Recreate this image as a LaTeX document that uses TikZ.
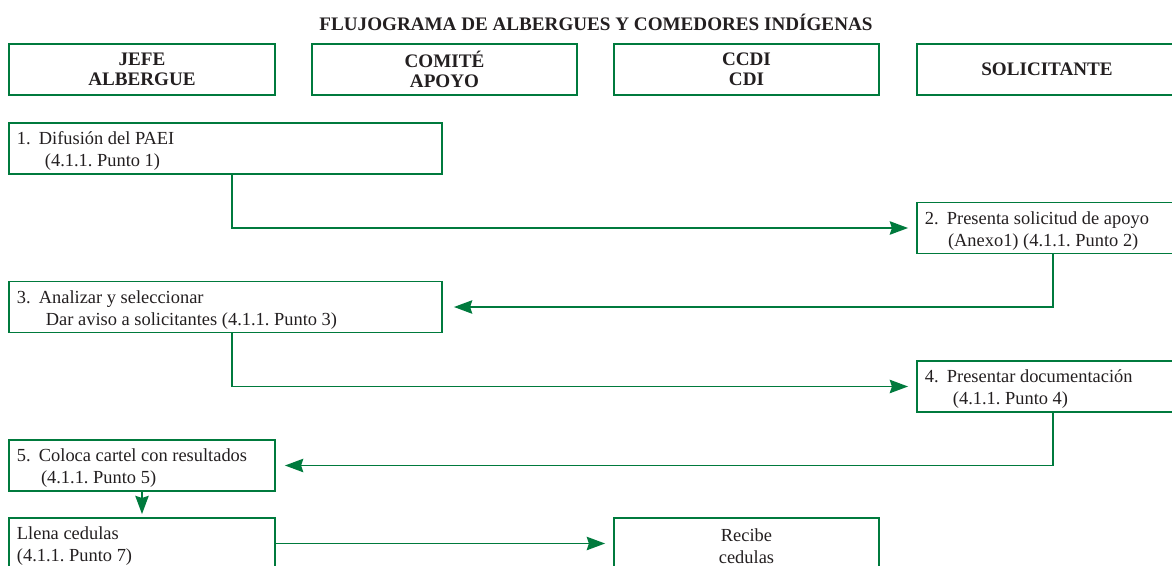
\documentclass[tikz,border=0pt]{standalone}
\usepackage{fontspec}
\setmainfont{Liberation Serif}
\usetikzlibrary{arrows.meta}
\definecolor{flowgreen}{RGB}{0,122,61}
\definecolor{ink}{RGB}{35,31,32}
\newcommand{\stepno}[1]{\makebox[15.6pt][l]{#1.}}
\newcommand{\topstrut}{\rule{0pt}{13pt}}
\frenchspacing

\begin{document}
\begin{tikzpicture}[x=0.025cm, y=-0.025cm,
	every node/.style={text=ink, font=\fontsize{13.1}{15.4}\selectfont},
	lane/.style={draw=flowgreen, line width=1.25pt, minimum height=1.275cm, inner sep=0pt, align=center, font=\bfseries\fontsize{13.6}{14.2}\selectfont},
	task/.style={draw=flowgreen, line width=1.25pt, minimum height=1.275cm, inner xsep=0.2cm, inner ysep=0pt, align=flush left},
	flow/.style={draw=flowgreen, line width=1.3pt, -{Stealth[length=13pt, width=9.5pt, inset=1.5pt]}}]
	% Page frame:
	\useasboundingbox (0,0) rectangle (1172,566);
	\clip (0,0) rectangle (1172,566);
	% Title and lanes:
	\node[anchor=base, font=\bfseries\fontsize{13.6}{14.2}\selectfont] (title) at (596,30) {FLUJOGRAMA DE ALBERGUES Y COMEDORES INDÍGENAS};
	\node[lane, minimum width=6.65cm] (jefe) at (142,69.5) {JEFE\\ALBERGUE};
	\node[lane, minimum width=6.625cm] (comite) at (444.5,69.5) {COMITÉ\\APOYO};
	\node[lane, minimum width=6.625cm] (ccdi) at (746.5,69.5) {CCDI\\CDI};
	\node[lane, minimum width=6.5cm] (solic) at (1047,69.5) {SOLICITANTE};
	% Steps:
	\node[task, text width=10.425cm] (p1) at (225.5,148.5) {\topstrut\stepno{1}Difusión del PAEI\\\hspace*{19.9pt}(4.1.1. Punto 1)};
	\node[task, text width=6.1cm] (p2) at (1047,228) {\topstrut\stepno{2}Presenta solicitud de apoyo\\\hspace*{16.4pt}(Anexo1) (4.1.1. Punto 2)};
	\node[task, text width=10.425cm] (p3) at (225.5,307) {\topstrut\stepno{3}Analizar y seleccionar\\\hspace*{20.6pt}Dar aviso a solicitantes (4.1.1. Punto 3)};
	\node[task, text width=6.1cm] (p4) at (1047,386.5) {\topstrut\stepno{4}Presentar documentación\\\hspace*{19.9pt}(4.1.1. Punto 4)};
	\node[task, text width=6.25cm] (p5) at (142,465.5) {\topstrut\stepno{5}Coloca cartel con resultados\\\hspace*{17.1pt}(4.1.1. Punto 5)};
	\node[task, text width=6.25cm] (p6) at (142,543.5) {\topstrut Llena cedulas\\(4.1.1. Punto 7)};
	\node[task, text width=6.225cm, align=center] (p7) at (746.5,543.5) {\topstrut Recibe\\cedulas};
	% Connectors:
	\draw[flow, shorten >=0.2cm] ([xshift=0.16cm]p1.south) |- (p2.west);
	\draw[flow, shorten >=0.275cm] ([xshift=0.15cm]p2.south) |- (p3.east);
	\draw[flow, shorten >=0.2cm] ([xshift=0.16cm]p3.south) |- (p4.west);
	\draw[flow, shorten >=0.225cm] ([xshift=0.15cm]p4.south) |- (p5.east);
	\draw[flow, shorten >=0.075cm] (p5.south) -- (p6.north);
	\draw[flow, shorten >=0.2cm] (p6.east) -- (p7.west);
\end{tikzpicture}
\end{document}
